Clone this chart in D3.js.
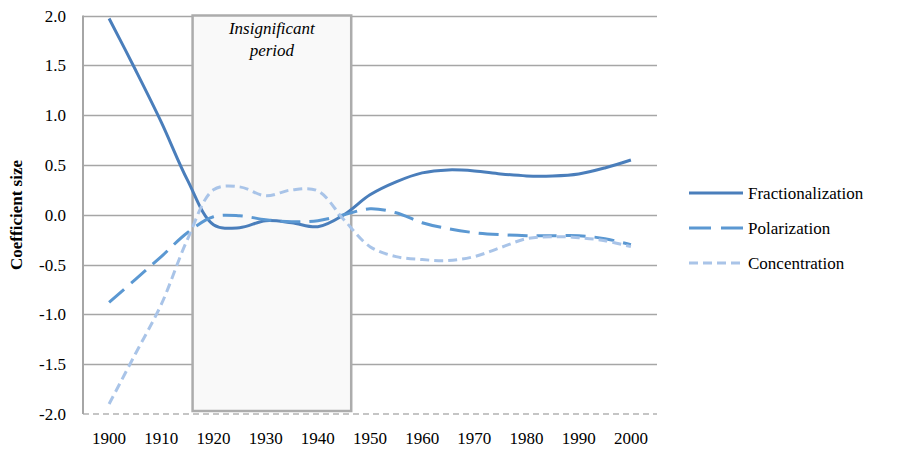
<!DOCTYPE html>
<html>
<head>
<meta charset="utf-8">
<script src="https://cdn.jsdelivr.net/npm/d3@7"></script>
<style>body { margin: 0; background: #fff; }</style>
</head>
<body>
<svg></svg>
<script>
// Chart data
const years = [1900, 1905, 1910, 1915, 1920, 1925, 1930, 1935, 1940, 1945, 1950,
  1955, 1960, 1965, 1970, 1975, 1980, 1985, 1990, 1995, 2000];

const fractionalization = [1.97, 1.46, 0.93, 0.35, -0.1, -0.13, -0.06, -0.08, -0.12, 0.0, 0.2,
  0.33, 0.42, 0.45, 0.44, 0.41, 0.39, 0.39, 0.41, 0.47, 0.55];

const polarization = [-0.88, -0.65, -0.42, -0.18, -0.02, -0.01, -0.05, -0.07, -0.06, 0.0, 0.06,
  0.02, -0.08, -0.14, -0.18, -0.2, -0.21, -0.21, -0.21, -0.24, -0.3];

const concentration = [-1.9, -1.4, -0.9, -0.25, 0.25, 0.28, 0.19, 0.25, 0.24, -0.05, -0.32,
  -0.42, -0.45, -0.46, -0.42, -0.33, -0.24, -0.22, -0.23, -0.26, -0.32];

const xTicks = [1900, 1910, 1920, 1930, 1940, 1950, 1960, 1970, 1980, 1990, 2000];
const yTicks = [2.0, 1.5, 1.0, 0.5, 0.0, -0.5, -1.0, -1.5, -2.0];
const insignificant = [1916, 1946.4];

const seriesNames = ["Fractionalization", "Polarization", "Concentration"];
const seriesValues = [fractionalization, polarization, concentration];
const seriesColors = ["#4a7ebb", "#5b98d2", "#a9c4e8"];
const seriesDash = [null, "20,9", "9,5"];

// Layout
const w = 897;
const h = 451;

const svg = d3.select("svg")
  .attr("width", w)
  .attr("height", h)
  .attr("font-family", "Liberation Serif");

// every label goes through this so the font is set on the text itself
const label = (sel, size) => sel
  .attr("font-family", "Liberation Serif")
  .attr("font-size", size)
  .attr("fill", "#000");

const x = d3.scaleLinear()
  .domain([1895, 2005])
  .range([83, 657]);

const y = d3.scaleLinear()
  .domain([-2, 2])
  .range([414, 15.5]);

// Gridlines
svg.append("g")
  .selectAll("line")
  .data(yTicks.filter((d) => d > -2))
  .enter()
  .append("line")
  .attr("x1", x.range()[0])
  .attr("x2", x.range()[1])
  .attr("y1", (d) => Math.round(y(d)) + 0.5)
  .attr("y2", (d) => Math.round(y(d)) + 0.5)
  .attr("stroke", "#a6a6a6")
  .attr("stroke-width", 1.3);

// Insignificant period box
svg.append("rect")
  .attr("x", x(insignificant[0]))
  .attr("y", y(2))
  .attr("width", x(insignificant[1]) - x(insignificant[0]))
  .attr("height", y(-2) - y(2) - 3)
  .attr("fill", "#f9f9f9")
  .attr("stroke", "#acacac")
  .attr("stroke-width", 2.5);

const boxMid = (x(insignificant[0]) + x(insignificant[1])) / 2;
["Insignificant", "period"].forEach((t, i) => {
  svg.append("text")
    .call(label, 17)
    .attr("x", boxMid)
    .attr("y", 34 + i * 22)
    .attr("text-anchor", "middle")
    .attr("font-style", "italic")
    .text(t);
});

// Axes lines
svg.append("line")
  .attr("x1", x.range()[0])
  .attr("x2", x.range()[1])
  .attr("y1", y(-2))
  .attr("y2", y(-2))
  .attr("stroke", "#b3b3b3")
  .attr("stroke-width", 1.3)
  .attr("stroke-dasharray", "6,4");

svg.append("line")
  .attr("x1", x.range()[0])
  .attr("x2", x.range()[0])
  .attr("y1", y(2))
  .attr("y2", y(-2))
  .attr("stroke", "#a6a6a6")
  .attr("stroke-width", 2);

// Tick labels
svg.append("g")
  .selectAll("text")
  .data(yTicks)
  .enter()
  .append("text")
  .call(label, 17)
  .attr("x", 66)
  .attr("y", (d) => y(d) + 6)
  .attr("text-anchor", "end")
  .text((d) => d.toFixed(1));

svg.append("g")
  .selectAll("text")
  .data(xTicks)
  .enter()
  .append("text")
  .call(label, 17)
  .attr("x", (d) => x(d))
  .attr("y", 444)
  .attr("text-anchor", "middle")
  .text((d) => d);

// Y axis title
svg.append("text")
  .call(label, 17)
  .attr("transform", "translate(22,215) rotate(-90)")
  .attr("text-anchor", "middle")
  .attr("font-weight", "bold")
  .text("Coefficient size");

// Lines
const line = d3.line()
  .x((d) => x(d[0]))
  .y((d) => y(d[1]))
  .curve(d3.curveCatmullRom.alpha(0.5));

seriesValues.forEach((vals, i) => {
  svg.append("path")
    .datum(years.map((yr, j) => [yr, vals[j]]))
    .attr("fill", "none")
    .attr("stroke", seriesColors[i])
    .attr("stroke-width", 3)
    .attr("stroke-dasharray", seriesDash[i])
    .attr("d", line);
});

// Legend
const legendY = [193, 228, 263];
seriesNames.forEach((name, i) => {
  svg.append("line")
    .attr("x1", 689)
    .attr("x2", 743)
    .attr("y1", legendY[i])
    .attr("y2", legendY[i])
    .attr("stroke", seriesColors[i])
    .attr("stroke-width", 3)
    .attr("stroke-dasharray", i === 1 ? "22,10" : seriesDash[i]);
  svg.append("text")
    .call(label, 17)
    .attr("x", 748)
    .attr("y", legendY[i] + 6)
    .text(name);
});
</script>
</body>
</html>
